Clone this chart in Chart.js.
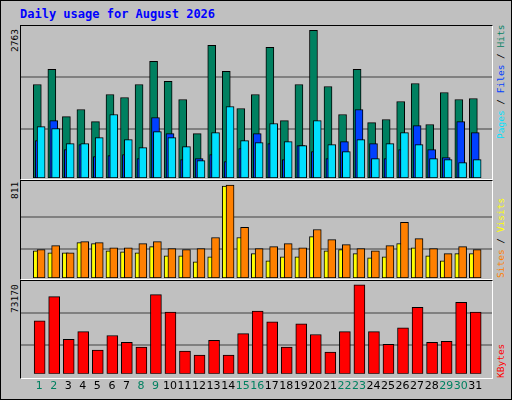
<!DOCTYPE html>
<html><head><meta charset="utf-8">
<script src="https://cdn.jsdelivr.net/npm/chart.js@4.4.1/dist/chart.umd.min.js"></script>
<style>
html,body{margin:0;padding:0;background:#c0c0c0;}
#wrap{position:relative;width:510px;height:398px;border:1px solid #000;background:#c0c0c0;overflow:hidden;font-family:"DejaVu Sans Mono",monospace;}
.panel{position:absolute;left:19px;width:471px;border-top:1px solid #000;border-left:1px solid #000;border-right:1px solid #fff;border-bottom:1px solid #fff;}
.c{position:absolute;}
.lab{position:absolute;white-space:nowrap;font-size:9.5px;transform-origin:0 0;transform:rotate(-90deg);}
</style></head><body>
<div id="wrap">
<div style="position:absolute;left:19px;top:6px;color:#0000ff;font-weight:bold;font-size:12px;">Daily usage for August 2026</div>
<div class="panel" style="top:24px;height:153px;"></div>
<div class="panel" style="top:179px;height:98px;"></div>
<div class="panel" style="top:279px;height:97px;"></div>
<div class="c" style="left:20px;top:25px;width:471px;height:152px;"><canvas id="c1"></canvas></div>
<div class="c" style="left:20px;top:180px;width:471px;height:97px;"><canvas id="c2"></canvas></div>
<div class="c" style="left:20px;top:280px;width:471px;height:118px;"><canvas id="c3"></canvas></div>
<div class="lab" style="left:8px;top:51px;color:#000;">2763</div>
<div class="lab" style="left:8px;top:198px;color:#000;">811</div>
<div class="lab" style="left:8px;top:312px;color:#000;">73170</div>
<div class="lab" style="left:494px;top:138px;"><span style="color:#00e0ff">Pages</span> / <span style="color:#0040ff">Files</span> / <span style="color:#008060">Hits</span></div>
<div class="lab" style="left:494px;top:277px;"><span style="color:#ff8000">Sites</span> / <span style="color:#ffff00">Visits</span></div>
<div class="lab" style="left:494px;top:377px;color:#ff0000;">KBytes</div>
</div>
<script>
const days = Array.from({length:31},(_,i)=>i+1);
const weekendDays = [1,2,8,9,15,16,22,23,29,30];
const hits  = [1700,1974,1117,1245,1026,1518,1463,1700,2119,1755,1427,808,2411,1937,1263,1518,2374,1044,1700,2684,1664,1154,1974,1008,1063,1391,1718,972,1555,1427,1445];
const files = [680,1044,516,607,389,407,425,352,1099,808,334,352,425,298,534,808,625,334,589,480,352,662,1245,625,352,516,953,516,370,1026,826];
const pages = [935,899,625,625,735,1154,698,553,844,735,571,316,826,1300,680,644,990,662,589,1044,607,480,698,352,625,826,607,352,334,279,334];
const visits= [238,220,220,309,300,238,229,220,273,194,194,141,185,802,353,212,150,185,185,361,238,247,212,176,185,300,264,194,150,212,212];
const sites = [247,282,220,317,309,264,264,300,317,256,247,256,353,811,441,256,273,300,264,423,335,291,256,238,282,485,344,256,212,273,247];
const kbytes= [43529,63557,28307,34716,19494,31512,25903,21897,65159,50739,18693,15489,27505,15489,33114,51540,42727,21897,41125,32312,17892,34716,73170,34716,24301,37920,54745,25903,26704,58750,50739];

const gridPlugin = {id:'grid', beforeDatasetsDraw(chart, a, opts){
  const y = chart.scales.y, ctx = chart.ctx, area = chart.chartArea;
  ctx.save(); ctx.strokeStyle='#808080'; ctx.lineWidth=2;
  (opts.values||[]).forEach(v=>{const p=Math.round(y.getPixelForValue(v)); ctx.beginPath(); ctx.moveTo(area.left,p); ctx.lineTo(area.right,p); ctx.stroke();});
  ctx.restore();
}};
Chart.register(gridPlugin);

function ds(vals, off, color, w, order){
  return {data: vals.map((v,i)=>({x:days[i]+off,y:v})), backgroundColor:color, borderColor:'#000', borderWidth:1, borderSkipped:false, barThickness:w, order:order, grouped:false};
}
function mk(id, datasets, ymax, grid, showX){
  return new Chart(document.getElementById(id), {
    type:'bar', data:{datasets},
    options:{responsive:true, maintainAspectRatio:false, animation:false,
      layout:{padding:0},
      plugins:{legend:{display:false}, tooltip:{enabled:false}, grid:{values:grid}},
      scales:{
        x:{type:'linear', min:0.27, max:31.63, display:showX, grid:{display:false, drawTicks:false}, border:{display:false},
           afterBuildTicks:s=>{s.ticks=days.map(d=>({value:d}));},
           ticks:{autoSkip:false, maxRotation:0, padding:6, font:{family:'DejaVu Sans', size:11},
             color:c=>weekendDays.includes(c.tick.value)?'#008060':'#000'}},
        y:{display:false, min:0, max:ymax}
      }}
  });
}
mk('c1',[ds(hits,-0.13,'#008060',8,2), ds(files,0.0,'#0040ff',8,1), ds(pages,0.13,'#00e0ff',8,0)],2763,[899,1828],false);
mk('c2',[ds(visits,-0.2,'#ffff00',6,1), ds(sites,0.13,'#ff8000',8,0)],846,[253,532],false);
mk('c3',[ds(kbytes,0.03,'#ff0000',11,0)],76375,[23500,49937],true);
</script>
</body></html>
